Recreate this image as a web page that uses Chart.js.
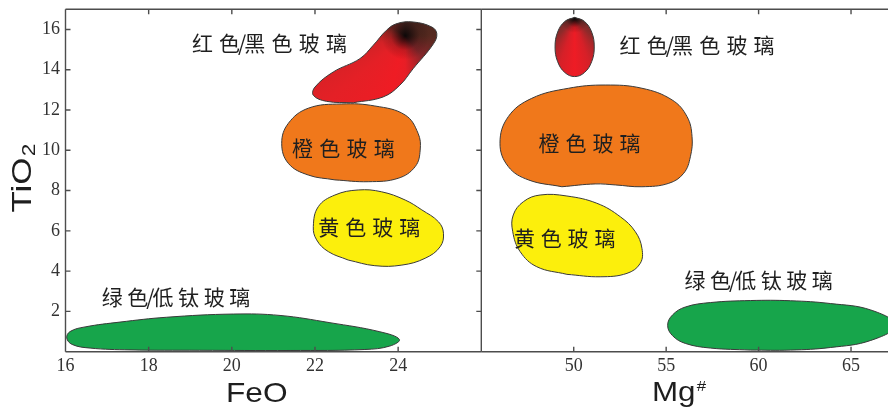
<!DOCTYPE html>
<html>
<head>
<meta charset="utf-8">
<script src="https://cdn.jsdelivr.net/npm/chart.js@4.4.1/dist/chart.umd.min.js"></script>
<style>
  html, body { margin: 0; padding: 0; background: #ffffff; }
  #wrap { position: relative; width: 888px; height: 411px; overflow: hidden; background: #ffffff; }
  #wrap canvas { position: absolute; left: 0; top: 0; }
</style>
</head>
<body>
<div id="wrap">
  <canvas id="feoChart" width="888" height="411"></canvas>
  <canvas id="mgChart" width="888" height="411"></canvas>
</div>
<script>
// ---- tick values ----
const feoTicks = [16, 18, 20, 22, 24];
const mgTicks = [50, 55, 60, 65];
const tio2Ticks = [2, 4, 6, 8, 10, 12, 14, 16];

// ---- glass groups ----
const fieldNames = ['红色/黑色玻璃', '橙色玻璃', '黄色玻璃', '绿色/低钛玻璃'];

// ---- field outlines: FeO vs TiO2 ----
const redFeO   = [22.92, 22.28, 21.96, 22.00, 22.44, 23.08, 23.40, 23.72, 23.97, 24.36, 24.81, 24.93, 24.85, 24.36, 24.04, 23.64];
const redTiO2  = [12.36, 12.43, 12.73, 13.14, 13.89, 14.55, 15.21, 15.96, 16.29, 16.37, 16.12, 15.79, 15.29, 14.05, 13.23, 12.65];

const orangeFeO  = [22.48, 21.84, 21.36, 21.20, 21.36, 21.84, 22.64, 23.44, 24.17, 24.48, 24.53, 24.41, 24.00, 23.28];
const orangeTiO2 = [8.53, 8.77, 9.35, 10.35, 11.34, 12.09, 12.30, 12.20, 11.75, 10.84, 10.01, 9.19, 8.61, 8.44];

const yellowFeO  = [22.80, 22.32, 22.04, 21.96, 22.08, 22.48, 23.04, 23.60, 24.17, 24.57, 24.97, 25.09, 25.01, 24.65, 24.09, 23.44];
const yellowTiO2 = [4.55, 4.97, 5.55, 6.21, 7.20, 7.78, 8.03, 7.94, 7.53, 7.04, 6.45, 5.88, 5.21, 4.64, 4.30, 4.27];

const greenFeO  = [19.23, 17.55, 16.59, 16.16, 16.03, 16.11, 16.47, 17.31, 18.43, 20.04, 21.16, 22.36, 23.56, 24.03, 23.80, 23.20, 21.40];
const greenTiO2 = [0.07, 0.09, 0.18, 0.36, 0.68, 1.00, 1.23, 1.47, 1.71, 1.87, 1.80, 1.44, 0.99, 0.61, 0.28, 0.11, 0.06];

// ---- field outlines: Mg# vs TiO2 ----
const redMg    = [50.05, 50.58, 50.97, 51.11, 50.97, 50.58, 50.05, 49.52, 49.13, 48.99, 49.13, 49.52];
const redTiO2b = [16.60, 16.40, 15.87, 15.13, 14.40, 13.86, 13.66, 13.86, 14.40, 15.13, 15.87, 16.40];

const orangeMg    = [49.36, 47.55, 46.46, 46.01, 46.46, 47.73, 49.72, 51.70, 53.69, 55.32, 56.13, 56.40, 56.31, 55.95, 55.14, 53.69, 52.25, 51.16];
const orangeTiO2b = [8.19, 8.53, 9.19, 10.35, 11.67, 12.58, 13.08, 13.24, 13.08, 12.50, 11.67, 10.68, 9.68, 8.86, 8.36, 8.19, 8.28, 8.33];

const yellowMg    = [49.63, 48.00, 47.10, 46.70, 46.73, 47.28, 48.18, 49.63, 51.25, 52.52, 53.33, 53.69, 53.60, 52.88, 51.43];
const yellowTiO2b = [3.84, 4.22, 4.97, 5.96, 6.79, 7.45, 7.78, 7.73, 7.37, 6.70, 5.96, 5.13, 4.39, 3.89, 3.72];

const greenMg    = [59.56, 57.40, 56.04, 55.34, 55.08, 55.34, 56.04, 57.40, 59.56, 61.73, 63.90, 66.07, 67.42, 66.07, 63.90, 61.73];
const greenTiO2b = [0.08, 0.18, 0.41, 0.80, 1.31, 1.82, 2.22, 2.44, 2.54, 2.53, 2.39, 2.07, 1.31, 0.56, 0.21, 0.08];

// ---- styling ----
const COLORS = { red: '#e51f26', orange: '#f0781b', yellow: '#fcef0c', green: '#17a54b', edge: '#3a3a3a', axis: '#4d4d4d', text: '#1f1f1f' };

// dark cores of the red/black fields (data units) and their colour sweep
const redCoreFeO = { x: 24.17, y: 15.68 };
const redCoreMg = { x: 50.05, y: 16.52 };
const sweepFeO = [[0, '#55291f'], [50, '#82262a'], [90, '#e81e26'], [105, '#ef1c24'], [140, '#e42026'], [165, '#d22226'], [188, '#a82624'], [212, '#6a2620'], [270, '#40241f'], [360, '#55291f']];
const sweepMg = [[0, '#5a2e2a'], [45, '#8e2a2a'], [72, '#d62028'], [90, '#ee1c25'], [108, '#d62028'], [135, '#8e2a2a'], [180, '#5a2e2a'], [360, '#5a2e2a']];

function outline(xs, ys) {
  const pts = xs.map((v, i) => ({ x: v, y: ys[i] }));
  pts.push({ x: xs[0], y: ys[0] }); // close the loop
  return pts;
}

function field(xs, ys, fill, extra) {
  return Object.assign({
    data: outline(xs, ys),
    showLine: true,
    fill: 'shape',
    backgroundColor: fill,
    borderColor: COLORS.edge,
    borderWidth: 1,
    pointRadius: 0,
    pointHoverRadius: 0,
    tension: 0.4
  }, extra || {});
}

function sweep(core, stops) {
  return (c) => {
    const chart = c.chart;
    if (!chart.chartArea) return COLORS.red;
    const cx = chart.scales.x.getPixelForValue(core.x);
    const cy = chart.scales.y.getPixelForValue(core.y);
    const g = chart.ctx.createConicGradient(0, cx, cy);
    stops.forEach(([a, col]) => g.addColorStop(a / 360, col));
    return g;
  };
}

function shade(core, radius) {
  return (c) => {
    const chart = c.chart;
    if (!chart.chartArea) return 'rgba(0,0,0,0)';
    const cx = chart.scales.x.getPixelForValue(core.x);
    const cy = chart.scales.y.getPixelForValue(core.y);
    const g = chart.ctx.createRadialGradient(cx, cy, 0, cx, cy, radius);
    g.addColorStop(0, 'rgba(12,8,8,1)');
    g.addColorStop(0.25, 'rgba(20,10,10,0.7)');
    g.addColorStop(0.6, 'rgba(30,12,12,0.2)');
    g.addColorStop(1, 'rgba(0,0,0,0)');
    return g;
  };
}

// frame lines and inward tick marks
const frameTicks = {
  id: 'frameTicks',
  afterDatasetsDraw(chart, args, o) {
    const { ctx, chartArea: a, scales } = chart;
    const x = scales.x, y = scales.y;
    ctx.save();
    ctx.strokeStyle = o.color;
    ctx.lineWidth = o.width;
    ctx.beginPath();
    if (o.sides.includes('top')) { ctx.moveTo(a.left, a.top); ctx.lineTo(a.right, a.top); }
    if (o.sides.includes('bottom')) { ctx.moveTo(a.left, a.bottom); ctx.lineTo(a.right, a.bottom); }
    if (o.sides.includes('left')) { ctx.moveTo(a.left, a.top); ctx.lineTo(a.left, a.bottom); }
    if (o.sides.includes('right')) { ctx.moveTo(a.right, a.top); ctx.lineTo(a.right, a.bottom); }
    const L = o.len;
    for (const v of o.xValues) {
      const px = x.getPixelForValue(v);
      if (px <= a.left + 1 || px >= a.right - 1) continue;
      if (o.xSides.includes('bottom')) { ctx.moveTo(px, a.bottom); ctx.lineTo(px, a.bottom - L); }
      if (o.xSides.includes('top')) { ctx.moveTo(px, a.top); ctx.lineTo(px, a.top + L); }
    }
    for (const v of o.yValues) {
      const py = y.getPixelForValue(v);
      if (py <= a.top + 1 || py >= a.bottom - 1) continue;
      if (o.ySides.includes('left')) { ctx.moveTo(a.left, py); ctx.lineTo(a.left + L, py); }
      if (o.ySides.includes('right')) { ctx.moveTo(a.right, py); ctx.lineTo(a.right - L, py); }
    }
    ctx.stroke();
    ctx.restore();
  }
};

// group names written inside / beside the fields
const fieldLabels = {
  id: 'fieldLabels',
  afterDatasetsDraw(chart, args, o) {
    const { ctx, scales } = chart;
    ctx.save();
    ctx.font = o.font;
    ctx.fillStyle = o.color;
    ctx.textBaseline = 'middle';
    ctx.textAlign = 'left';
    o.items.forEach((it) => {
      let px = scales.x.getPixelForValue(it.x);
      const py = scales.y.getPixelForValue(it.y);
      const chars = Array.from(it.text);
      chars.forEach((ch, i) => {
        ctx.fillText(ch, px, py);
        px += ctx.measureText(ch).width;
        const nx = chars[i + 1];
        if (nx) px += (ch === '/' || nx === '/') ? o.slashGap : it.gap;
      });
    });
    ctx.restore();
  }
};

// axis names
const axisTitles = {
  id: 'axisTitles',
  afterDraw(chart, args, o) {
    const ctx = chart.ctx;
    o.items.forEach((t) => {
      ctx.save();
      ctx.fillStyle = o.color;
      ctx.translate(t.x, t.y);
      if (t.rotate) ctx.rotate(t.rotate);
      ctx.scale(t.stretch || 1, 1);
      ctx.textAlign = 'left';
      ctx.textBaseline = 'alphabetic';
      ctx.font = t.size + 'px "Liberation Sans", Arial, sans-serif';
      ctx.fillText(t.text, 0, 0);
      if (t.extra) {
        const w = ctx.measureText(t.text).width;
        ctx.font = t.extraSize + 'px "Liberation Sans", Arial, sans-serif';
        ctx.fillText(t.extra, w + t.extraDx, t.extraDy);
      }
      ctx.restore();
    });
  }
};

const tickFont = { family: '"Liberation Serif", "Times New Roman", serif', size: 18 };
const labelOpts = { font: '21px "Noto Sans CJK SC", sans-serif', color: COLORS.text, slashGap: -2 };

function setTicks(values) {
  return (axis) => { axis.ticks = values.map((v) => ({ value: v })); };
}
// fixed box size, without the extra room Chart.js keeps for end labels
function fixBox(w, h) {
  return (s) => {
    if (w !== null) s.width = w;
    if (h !== null) s.height = h;
    s.paddingTop = 0; s.paddingBottom = 0; s.paddingLeft = 0; s.paddingRight = 0;
  };
}

// ---- left panel: FeO ----
new Chart(document.getElementById('feoChart'), {
  type: 'scatter',
  data: {
    datasets: [
      field(redFeO, redTiO2, sweep(redCoreFeO, sweepFeO), { borderWidth: 0, order: 2 }),
      field(redFeO, redTiO2, shade(redCoreFeO, 24), { order: 1 }),
      field(orangeFeO, orangeTiO2, COLORS.orange, { order: 3 }),
      field(yellowFeO, yellowTiO2, COLORS.yellow, { order: 4 }),
      field(greenFeO, greenTiO2, COLORS.green, { order: 5 })
    ]
  },
  options: {
    responsive: false,
    animation: false,
    devicePixelRatio: 1,
    events: [],
    layout: { padding: { left: 0, right: 406.7, top: 9.3, bottom: 0 } },
    scales: {
      x: {
        type: 'linear', min: 16, max: 26,
        afterBuildTicks: setTicks(feoTicks),
        afterFit: fixBox(null, 59.3),
        grid: { display: false, drawTicks: false },
        border: { display: false },
        ticks: { font: tickFont, color: '#333', padding: 4, autoSkip: false, maxRotation: 0 }
      },
      y: {
        type: 'linear', min: 0, max: 17,
        afterBuildTicks: setTicks(tio2Ticks),
        afterFit: fixBox(65.5, null),
        grid: { display: false, drawTicks: false },
        border: { display: false },
        ticks: { font: tickFont, color: '#333', padding: 5.5, autoSkip: false }
      }
    },
    plugins: {
      legend: { display: false },
      tooltip: { enabled: false },
      frameTicks: { color: COLORS.axis, width: 1.4, len: 5, sides: ['top', 'bottom', 'left', 'right'], xValues: feoTicks, xSides: ['bottom', 'top'], yValues: tio2Ticks, ySides: ['left', 'right'] },
      fieldLabels: Object.assign({}, labelOpts, {
        items: [
          { text: fieldNames[0], x: 19.04, y: 15.33, gap: 6.2 },
          { text: fieldNames[1], x: 21.45, y: 10.10, gap: 6.2 },
          { text: fieldNames[2], x: 22.08, y: 6.21, gap: 6 },
          { text: fieldNames[3], x: 16.87, y: 2.73, gap: 4.6 }
        ]
      }),
      axisTitles: {
        color: '#1e1e1e',
        items: [
          { text: 'FeO', x: 226, y: 401.5, size: 28, stretch: 1.13 },
          { text: 'TiO', x: 30.5, y: 212.5, size: 28, stretch: 1.25, rotate: -Math.PI / 2, extra: '2', extraSize: 18, extraDx: 1, extraDy: 4 }
        ]
      }
    }
  },
  plugins: [frameTicks, fieldLabels, axisTitles]
});

// ---- right panel: Mg# ----
new Chart(document.getElementById('mgChart'), {
  type: 'scatter',
  data: {
    datasets: [
      field(redMg, redTiO2b, sweep(redCoreMg, sweepMg), { borderWidth: 0, order: 2 }),
      field(redMg, redTiO2b, shade(redCoreMg, 14), { order: 1 }),
      field(orangeMg, orangeTiO2b, COLORS.orange, { order: 3 }),
      field(yellowMg, yellowTiO2b, COLORS.yellow, { order: 4 }),
      field(greenMg, greenTiO2b, COLORS.green, { order: 5 })
    ]
  },
  options: {
    responsive: false,
    animation: false,
    devicePixelRatio: 1,
    events: [],
    layout: { padding: { left: 481.3, right: 0, top: 9.3, bottom: 0 } },
    scales: {
      x: {
        type: 'linear', min: 45, max: 67,
        afterBuildTicks: setTicks(mgTicks),
        afterFit: fixBox(null, 59.3),
        grid: { display: false, drawTicks: false },
        border: { display: false },
        ticks: { font: tickFont, color: '#333', padding: 4, autoSkip: false, maxRotation: 0 }
      },
      y: { type: 'linear', min: 0, max: 17, display: false }
    },
    plugins: {
      legend: { display: false },
      tooltip: { enabled: false },
      frameTicks: { color: COLORS.axis, width: 1.4, len: 5, sides: ['top', 'bottom'], xValues: mgTicks, xSides: ['bottom', 'top'], yValues: [], ySides: [] },
      fieldLabels: Object.assign({}, labelOpts, {
        items: [
          { text: fieldNames[0], x: 52.48, y: 15.23, gap: 6.2 },
          { text: fieldNames[1], x: 48.09, y: 10.35, gap: 6 },
          { text: fieldNames[2], x: 46.77, y: 5.63, gap: 5.8 },
          { text: fieldNames[3], x: 55.99, y: 3.56, gap: 4.5 }
        ]
      }),
      axisTitles: {
        color: '#1e1e1e',
        items: [
          { text: 'Mg', x: 652, y: 400.5, size: 28, stretch: 1.12, extra: '#', extraSize: 15, extraDx: 1, extraDy: -10 }
        ]
      }
    }
  },
  plugins: [frameTicks, fieldLabels, axisTitles]
});
</script>
</body>
</html>
